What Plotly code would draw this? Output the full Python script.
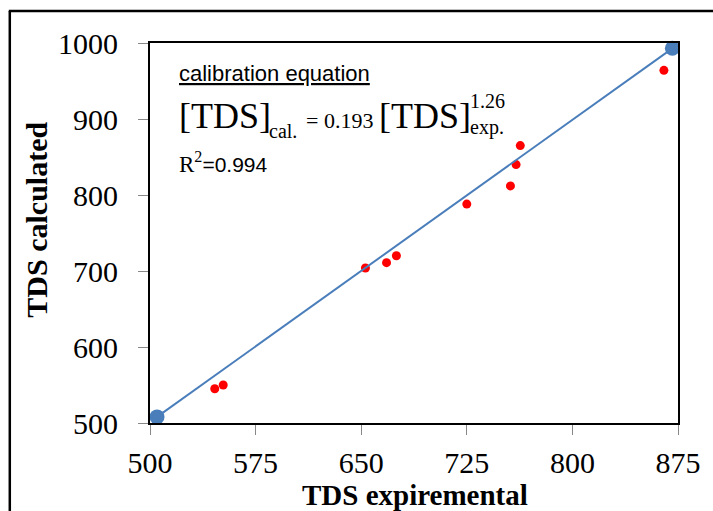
import plotly.graph_objects as go

# Data
exp_x = [500, 546, 552, 653, 668, 675, 725, 756, 760, 763, 865]
calc_y = [499, 545, 550, 704, 711, 720, 788, 812, 840, 865, 964]
fit_x = [505, 871]
fit_y = [508, 993]

x_ticks = [500, 575, 650, 725, 800, 875]
y_ticks = [500, 600, 700, 800, 900, 1000]

W, H = 713, 511
L, R, T, B = 150, 32, 43, 88
PW, PH = W - L - R, H - T - B


def px(x):
    return (x - L) / PW


def py(y):
    return (H - B - y) / PH


fig = go.Figure()
fig.add_trace(go.Scatter(x=exp_x, y=calc_y, mode="markers",
                         marker=dict(color="#ff0000", size=9),
                         showlegend=False, cliponaxis=False))
fig.add_trace(go.Scatter(x=fit_x, y=fit_y, mode="lines+markers",
                         line=dict(color="#4a7ebb", width=2),
                         marker=dict(color="#4a7ebb", size=15),
                         showlegend=False, cliponaxis=False))

serif = "Liberation Serif"
sans = "Liberation Sans"
axis_common = dict(showgrid=False, zeroline=False, showline=True, mirror=True,
                   linecolor="black", linewidth=2, ticks="outside", ticklen=10,
                   tickcolor="#888888", tickwidth=1,
                   tickfont=dict(family=serif, size=30, color="black"))
fig.update_xaxes(range=[500, 875], tickvals=x_ticks, ticktext=[str(v) for v in x_ticks],
                 ticklabelstandoff=2, **axis_common)
fig.update_yaxes(range=[500, 1000], tickvals=y_ticks, ticktext=[str(v) for v in y_ticks],
                 ticklabelstandoff=14, **axis_common)

ann = []


def add(text, x, y, size, family=serif, xanchor="left", yanchor="middle", angle=0, color="black"):
    ann.append(dict(text=text, x=px(x), y=py(y), xref="paper", yref="paper",
                    xanchor=xanchor, yanchor=yanchor, showarrow=False, textangle=angle,
                    font=dict(family=family, size=size, color=color)))


add("<b>TDS expiremental</b>", 417, 495, 29, xanchor="center")
add("<b>TDS calculated</b>", 35, 220, 30, xanchor="center", angle=-90)
add("<u>calibration equation</u>", 177, 73, 22, family=sans)
add("[TDS]", 177, 116, 36)
add("cal.", 268, 131, 20)
add("= 0.193", 305, 121, 22)
add("[TDS]", 378, 116, 36)
add("1.26", 470, 101, 20)
add("exp.", 470, 127, 20)
add('<span style="font-family:Liberation Serif;font-size:23px">R<sup>2</sup></span>=0.994', 177, 162, 21, family=sans)

shapes = [
    dict(type="line", xref="paper", yref="paper", x0=px(9), x1=px(9), y0=py(H + 5), y1=py(11),
         line=dict(color="black", width=2.5)),
    dict(type="line", xref="paper", yref="paper", x0=px(8), x1=px(W + 5), y0=py(11), y1=py(11),
         line=dict(color="black", width=2.5)),
]

fig.update_layout(width=W, height=H, margin=dict(l=L, r=R, t=T, b=B),
                  paper_bgcolor="white", plot_bgcolor="white",
                  annotations=ann, shapes=shapes)

fig.write_html("out.html")
